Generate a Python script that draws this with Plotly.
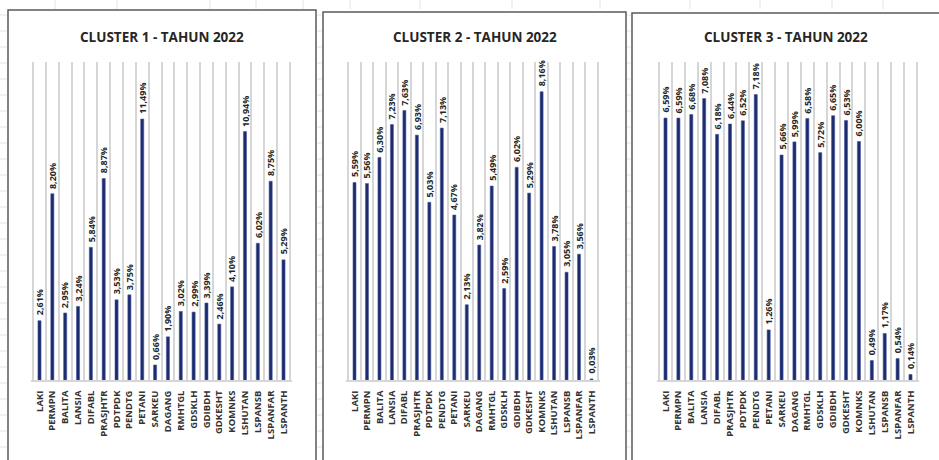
import plotly.graph_objects as go

W, H = 939, 460

categories = ["LAKI", "PERMPN", "BALITA", "LANSIA", "DIFABL", "PRASJHTR", "PDTPDK",
              "PENDTG", "PETANI", "SARKEU", "DAGANG", "RMHTGL", "GDSKLH", "GDIBDH",
              "GDKESHT", "KOMNKS", "LSHUTAN", "LSPANSB", "LSPANFAR", "LSPANTH"]

cluster1 = [2.61, 8.20, 2.95, 3.24, 5.84, 8.87, 3.53, 3.75, 11.49, 0.66,
            1.90, 3.02, 2.99, 3.39, 2.46, 4.10, 10.94, 6.02, 8.75, 5.29]
cluster2 = [5.59, 5.56, 6.30, 7.23, 7.63, 6.93, 5.03, 7.13, 4.67, 2.13,
            3.82, 5.49, 2.59, 6.02, 5.29, 8.16, 3.78, 3.05, 3.56, 0.03]
cluster3 = [6.59, 6.59, 6.68, 7.08, 6.18, 6.44, 6.52, 7.18, 1.26, 5.66,
            5.99, 6.58, 5.72, 6.65, 6.53, 6.00, 0.49, 1.17, 0.54, 0.14]

titles = ["CLUSTER 1 - TAHUN 2022", "CLUSTER 2 - TAHUN 2022", "CLUSTER 3 - TAHUN 2022"]
y_max = [14, 9, 8]

# pixel layout of each chart object (plot area and frame)
plot_x = [(31, 292), (346, 600), (657, 919)]
frames = [(8, 10, 316, 470), (323, 12, 626, 470), (632, 13, 950, 470)]
plot_top, plot_bottom = 62, 380

BAR = "#1c2a6e"
TXT = "#262626"
GRID = "#d6d6d6"


def pct(v):
    return f"{v:.2f}%".replace(".", ",")


fig = go.Figure()
series = [cluster1, cluster2, cluster3]
for i, vals in enumerate(series):
    n = "" if i == 0 else str(i + 1)
    fig.add_trace(go.Bar(
        x=categories, y=vals, xaxis="x" + n, yaxis="y" + n,
        width=0.24,
        marker=dict(color=BAR, line=dict(color="#4a5a9c", width=0.6)),
        hoverinfo="x+y", showlegend=False,
    ))
    # value labels, rotated, sitting just above each bar
    for c, v in zip(categories, vals):
        fig.add_annotation(
            x=c, y=v, xref="x" + n, yref="y" + n, text=pct(v),
            textangle=-90, showarrow=False, xanchor="center", yanchor="bottom",
            yshift=3,
            font=dict(family="Open Sans", size=9, color=TXT, weight="bold"),
        )
    x0, x1 = plot_x[i]
    fig.update_layout(**{
        "xaxis" + n: dict(
            domain=[x0 / W, x1 / W], anchor="y" + n, type="category",
            tickson="boundaries", showgrid=True, gridcolor=GRID, gridwidth=1.5,
            showline=True, linecolor=GRID, linewidth=1.5, ticks="",
            tickangle=-90, fixedrange=True, ticklabelstandoff=5,
            tickfont=dict(family="Open Sans", size=9.5, color="#333333", weight="bold"),
        ),
        "yaxis" + n: dict(
            domain=[1 - plot_bottom / H, 1 - plot_top / H], anchor="x" + n,
            range=[0, y_max[i]], showgrid=False, showticklabels=False,
            zeroline=False, showline=False, ticks="", fixedrange=True,
        ),
    })
    fx0, fy0, fx1, fy1 = frames[i]
    fig.add_shape(type="rect", xref="paper", yref="paper",
                  x0=fx0 / W, x1=fx1 / W, y0=1 - fy1 / H, y1=1 - fy0 / H,
                  line=dict(color="#595959", width=1.5), layer="below")
    fig.add_annotation(text=titles[i], xref="paper", yref="paper",
                       x=((fx0 + min(fx1, W)) / 2) / W, y=1 - 37 / H,
                       showarrow=False, xanchor="center", yanchor="middle",
                       font=dict(family="Open Sans", size=13.5, color="#262626", weight="bold"))

# faint worksheet cell lines visible around the chart objects
sheet_rows = list(range(15, 460, 16))
for gx0, gx1 in [(0, 7), (317, 322), (627, 631)]:
    for ry in sheet_rows:
        fig.add_shape(type="line", xref="paper", yref="paper",
                      x0=gx0 / W, x1=gx1 / W, y0=1 - ry / H, y1=1 - ry / H,
                      line=dict(color="#e3e3e3", width=1), layer="below")
for cx in [55, 117, 210, 256, 303, 350, 420, 512, 600, 690, 760, 832, 883]:
    fig.add_shape(type="line", xref="paper", yref="paper",
                  x0=cx / W, x1=cx / W, y0=1 - 0 / H, y1=1 - 9 / H,
                  line=dict(color="#e3e3e3", width=1), layer="below")

fig.update_layout(
    width=W, height=H, margin=dict(l=0, r=0, t=0, b=0),
    paper_bgcolor="white", plot_bgcolor="rgba(0,0,0,0)",
    bargap=0.7,
)

fig.write_html("out.html", config={"displayModeBar": False})
